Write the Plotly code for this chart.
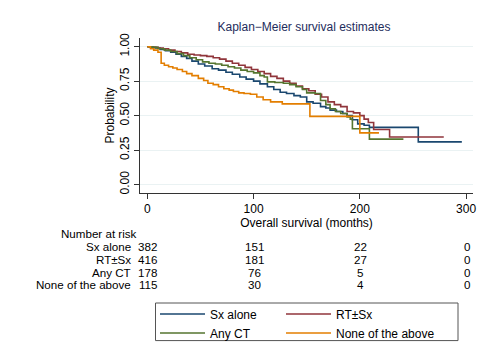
import plotly.graph_objects as go

# ---- data ----
series_names = ["Sx alone", "RT±Sx", "Any CT", "None of the above"]
series_colors = ["#1a476f", "#90353b", "#55752f", "#e37e00"]
series_legend = ["legend", "legend2", "legend", "legend2"]

sx_t = [0, 3, 8, 12, 17, 22, 27, 32, 37, 42, 48, 54, 61, 67, 74, 80, 87, 93, 100, 106,
        113, 119, 125, 131, 138, 144, 150, 156, 163, 168, 172, 178, 184, 188, 193, 198,
        204, 209, 255]
sx_s = [1, 0.995, 0.99, 0.98, 0.97, 0.96, 0.945, 0.93, 0.915, 0.895, 0.875, 0.86, 0.84,
        0.83, 0.815, 0.80, 0.78, 0.765, 0.75, 0.73, 0.71, 0.69, 0.67, 0.66, 0.645, 0.635,
        0.60, 0.59, 0.565, 0.555, 0.54, 0.53, 0.515, 0.50, 0.47, 0.44, 0.43, 0.415, 0.31]
sx_end = 296

rt_t = [0, 5, 10, 15, 20, 26, 32, 38, 44, 50, 56, 62, 68, 74, 80, 86, 92, 98, 104, 110,
        116, 122, 128, 134, 140, 146, 152, 158, 164, 170, 176, 182, 188, 194, 200, 204,
        208, 213, 228]
rt_s = [1, 0.995, 0.99, 0.985, 0.975, 0.965, 0.955, 0.945, 0.94, 0.935, 0.93, 0.92, 0.91,
        0.895, 0.88, 0.865, 0.85, 0.835, 0.82, 0.805, 0.785, 0.77, 0.75, 0.735, 0.715,
        0.695, 0.68, 0.655, 0.635, 0.60, 0.58, 0.565, 0.53, 0.52, 0.50, 0.475, 0.45, 0.40,
        0.345]
rt_end = 279

ct_t = [0, 5, 10, 16, 22, 28, 34, 40, 46, 52, 58, 64, 70, 76, 82, 88, 94, 100, 106, 110,
        113, 120, 128, 134, 140, 146, 150, 158, 163, 168, 172, 177, 182, 188, 191, 193, 209]
ct_s = [1, 0.995, 0.985, 0.975, 0.965, 0.95, 0.935, 0.92, 0.905, 0.89, 0.88, 0.875, 0.865,
        0.855, 0.845, 0.83, 0.82, 0.81, 0.79, 0.78, 0.745, 0.74, 0.735, 0.725, 0.71, 0.69,
        0.665, 0.66, 0.61, 0.58, 0.55, 0.53, 0.515, 0.49, 0.475, 0.405, 0.33]
ct_end = 241

no_t = [0, 3, 6, 10, 13, 16, 20, 24, 28, 33, 37, 42, 48, 53, 57, 62, 67, 72, 77, 81, 86,
        91, 97, 103, 109, 116, 127, 153, 200]
no_s = [1, 0.985, 0.975, 0.96, 0.88, 0.865, 0.855, 0.845, 0.835, 0.82, 0.805, 0.79, 0.77,
        0.755, 0.735, 0.725, 0.71, 0.695, 0.685, 0.675, 0.665, 0.66, 0.655, 0.635, 0.615,
        0.60, 0.585, 0.495, 0.375]
no_end = 218

risk_times = [0, 100, 200, 300]
risk_sx = [382, 151, 22, 0]
risk_rt = [416, 181, 27, 0]
risk_ct = [178, 76, 5, 0]
risk_no = [115, 30, 4, 0]

x_ticks = [0, 100, 200, 300]
y_ticks = [0, 0.25, 0.5, 0.75, 1.0]
y_ticklabels = ["0.00", "0.25", "0.50", "0.75", "1.00"]

# ---- figure ----
FONT = "Arial, Liberation Sans, Helvetica, sans-serif"
fig = go.Figure()
curves = [(sx_t, sx_s, sx_end), (rt_t, rt_s, rt_end), (ct_t, ct_s, ct_end), (no_t, no_s, no_end)]
for (t, s, end), name, col, lg in zip(curves, series_names, series_colors, series_legend):
    fig.add_trace(go.Scatter(x=t + [end], y=s + [s[-1]], mode="lines", name=name,
                             legend=lg, line=dict(color=col, width=1.6, shape="hv")))

# page body has an 8px margin: the figure is drawn at screen offset (8, 8)
OFF = 8
W, H = 500 - OFF, 363 - OFF
# plot area in screen pixels
PL, PR, PT, PB = 140, 473, 38, 192.7
L, R, T, B = PL - OFF, 500 - PR, PT - OFF, 363 - PB
pw = PR - PL
ph = PB - PT

def py(p):
    return (PB - p) / ph

def px(p):
    return (p - PL) / pw

ann = []
ann.append(dict(text="Number at risk", x=px(59), y=py(233), xref="paper", yref="paper",
                xanchor="left", yanchor="middle", showarrow=False))
rows = [risk_sx, risk_rt, risk_ct, risk_no]
row_y = [246.2, 258.95, 271.7, 284.45]
for name, vals, yy in zip(series_names, rows, row_y):
    ann.append(dict(text=name, x=px(133), y=py(yy), xref="paper", yref="paper",
                    xanchor="right", yanchor="middle", showarrow=False))
    for tt, v in zip(risk_times, vals):
        ann.append(dict(text=str(v), x=tt, y=py(yy), xref="x", yref="paper", xshift=0.5,
                        xanchor="center", yanchor="middle", showarrow=False))
for a in ann:
    a["font"] = dict(size=11.6, color="#000000", family=FONT)

leg_common = dict(xanchor="left", yanchor="top", xref="paper", yref="paper",
                  itemwidth=45, borderwidth=0, bgcolor="rgba(0,0,0,0)",
                  font=dict(size=12, family=FONT, color="#000000"))

fig.update_layout(
    width=W, height=H,
    margin=dict(l=L, r=R, t=T, b=B, autoexpand=False),
    paper_bgcolor="white", plot_bgcolor="white",
    font=dict(family=FONT, size=12, color="#000000"),
    title=dict(text="Kaplan−Meier survival estimates", x=px(304), xref="paper",
               y=1 - (26.7 - OFF) / H, yanchor="middle", xanchor="center",
               font=dict(size=12, color="#1e2d5c", family=FONT)),
    xaxis=dict(range=[-6.9, 306.5], tickvals=x_ticks, ticks="outside", ticklen=5,
               tickcolor="#333333", showline=True, linecolor="#333333", linewidth=1,
               showgrid=False, zeroline=False,
               title=dict(text="Overall survival (months)", standoff=0,
                          font=dict(size=12)),
               tickfont=dict(size=12)),
    yaxis=dict(range=[-0.061, 1.063], tickvals=y_ticks, ticktext=y_ticklabels,
               tickangle=-90, ticks="outside", ticklen=5, tickcolor="#333333",
               showline=True, linecolor="#333333", linewidth=1,
               showgrid=True, gridcolor="#eaf2f3", gridwidth=1, zeroline=False,
               title=dict(text="Probability", standoff=1, font=dict(size=12)),
               tickfont=dict(size=12)),
    legend=dict(x=px(155), y=py(299), **leg_common),
    legend2=dict(x=px(281), y=py(299), **leg_common),
    shapes=[dict(type="rect", xref="paper", yref="paper", x0=px(155.5), x1=px(458),
                 y0=py(302.5), y1=py(340), line=dict(color="#555555", width=1),
                 fillcolor="rgba(0,0,0,0)")],
    annotations=ann,
    showlegend=True,
)

fig.write_html("out.html")
